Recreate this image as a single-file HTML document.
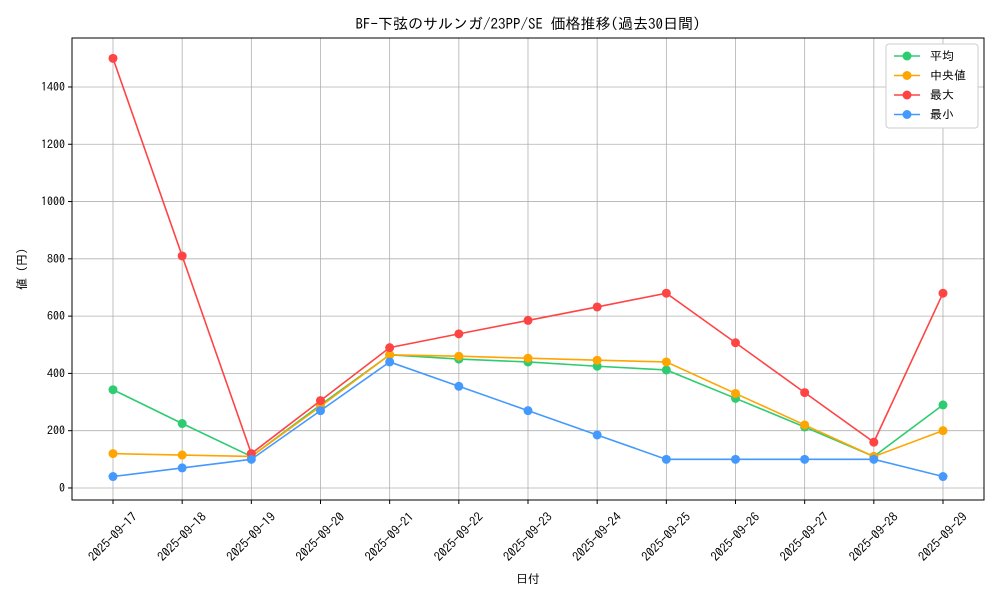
<!DOCTYPE html>
<html><head><meta charset="utf-8"><style>
body{margin:0;background:#fff;}
svg text{font-family:"IPAGothic","Noto Sans CJK JP",sans-serif;fill:#000;}
</style></head><body>
<svg id="chart" width="1000" height="600"></svg>
<script>
const categories=["2025-09-17","2025-09-18","2025-09-19","2025-09-20","2025-09-21","2025-09-22","2025-09-23","2025-09-24","2025-09-25","2025-09-26","2025-09-27","2025-09-28","2025-09-29"];
const avgValues=[343,225,110,290,465,450,440,425,412,313,213,110,290];
const medianValues=[120,115,110,285,465,460,453,446,440,330,220,110,200];
const maxValues=[1500,810,120,305,490,538,585,632,680,507,333,160,680];
const minValues=[40,70,100,270,440,355,270,185,100,100,100,100,40];
const yTicks=[0,200,400,600,800,1000,1200,1400];
const seriesNames=["平均","中央値","最大","最小"];
const seriesColors=["#2ecc71","#ffa500","#ff4444","#4499ff"];
const svg=document.getElementById('chart');
const NS="http://www.w3.org/2000/svg";
const L=72,R=984,T=38,B=500;
const yMin=-42,yMax=1571;
const x=i=>113+i*(943-113)/(categories.length-1);
const y=v=>B-(v-yMin)/(yMax-yMin)*(B-T);
function el(t,a,p){const e=document.createElementNS(NS,t);for(const k in a)e.setAttribute(k,a[k]);(p||svg).appendChild(e);return e;}
yTicks.forEach(v=>{
 const g=el('line',{x1:L,x2:R,y1:y(v),y2:y(v),stroke:'#b0b0b0','stroke-width':0.8});
 
 
 el('line',{x1:L-4,x2:L,y1:y(v),y2:y(v),stroke:'#000'});
 const t=el('text',{x:L-7,y:y(v)+4,'text-anchor':'end',style:'font-size:12px'});t.textContent=v;
 
 
});
categories.forEach((c,i)=>{
 const g=el('line',{x1:x(i),x2:x(i),y1:T,y2:B,stroke:'#b0b0b0','stroke-width':0.8});
 
 
 el('line',{x1:x(i),x2:x(i),y1:B,y2:B+4,stroke:'#000'});
 const cx=x(i),cy=541;
 const t=el('text',{x:cx,y:cy,'text-anchor':'middle',style:'font-size:12.5px',transform:`rotate(-45 ${cx} ${cy-4})`});t.textContent=c;
 
 
});
const frame=el('rect',{x:L,y:T,width:R-L,height:B-T,fill:'none',stroke:'#000','stroke-width':1});


const all=[avgValues,medianValues,maxValues,minValues];
all.forEach((s,k)=>{
 const p=el('polyline',{points:s.map((v,i)=>x(i)+','+y(v)).join(' '),fill:'none',stroke:seriesColors[k],'stroke-width':1.6});
 
 
 s.forEach((v,i)=>{const c=el('circle',{cx:x(i),cy:y(v),r:4.5,fill:seriesColors[k]});
  
  });
});
let t=el('text',{x:528,y:29,'text-anchor':'middle',style:'font-size:15px'});t.textContent="BF-下弦のサルンガ/23PP/SE 価格推移(過去30日間)";

t=el('text',{x:528,y:583,'text-anchor':'middle',style:'font-size:12px'});t.textContent="日付";

t=el('text',{x:26,y:269,'text-anchor':'middle',style:'font-size:12px',transform:'rotate(-90 26 269)'});t.textContent="値 (円)";

const lg=el('rect',{x:886,y:44,width:92,height:84,fill:'#fff',stroke:'#ccc',rx:3});

seriesNames.forEach((n,k)=>{
 const yy=56+k*19.5;
 el('line',{x1:894,x2:920,y1:yy,y2:yy,stroke:seriesColors[k],'stroke-width':1.6});
 el('circle',{cx:907,cy:yy,r:4.5,fill:seriesColors[k]});
 const tt=el('text',{x:930,y:yy+4,style:'font-size:12px'});tt.textContent=n;
 
});
</script>
</body></html>
